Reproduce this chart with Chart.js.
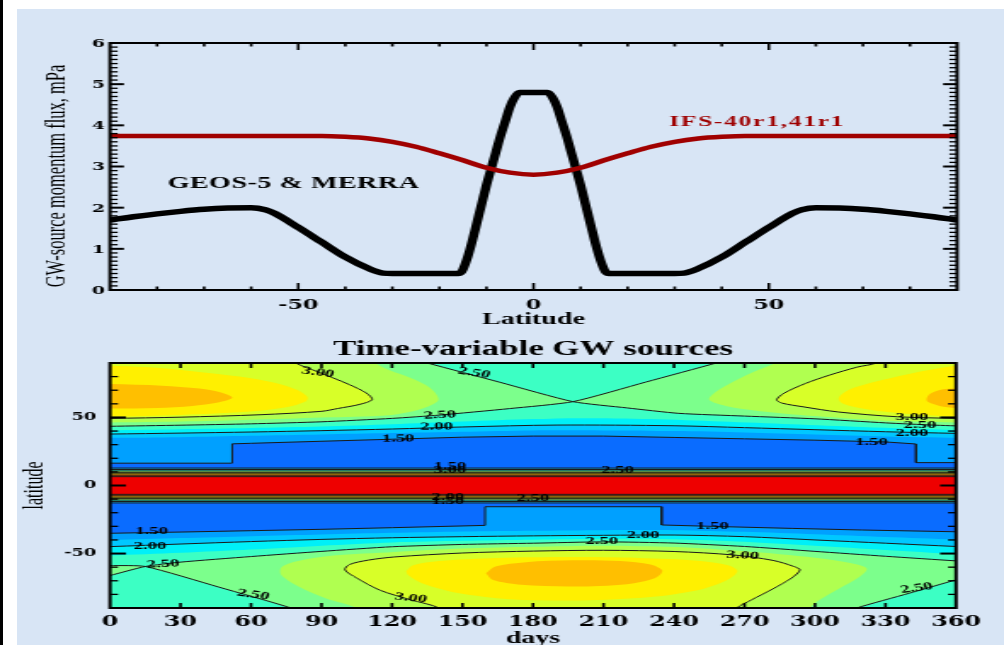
<!DOCTYPE html>
<html>
<head>
<meta charset="utf-8">
<title>GW source momentum flux</title>
<script src="https://cdn.jsdelivr.net/npm/chart.js@4.4.1/dist/chart.umd.min.js"></script>
<style>
  html, body { margin: 0; padding: 0; background: #fff; }
  #page { position: relative; width: 1004px; height: 645px; overflow: hidden; background: #fff; }
  #paper { position: absolute; left: 17px; top: 9px; right: 0; bottom: 0; background: #d8e5f5; }
  #rule { position: absolute; left: 0; top: 0; width: 3px; height: 645px; background: #000; }
  canvas { position: absolute; left: 0; }
</style>
</head>
<body>
<div id="page">
  <div id="paper"></div>
  <div id="rule"></div>
  <canvas id="fluxChart" width="590" height="335" style="width:1004px;height:335px;top:0"></canvas>
  <canvas id="sourceChart" width="590" height="310" style="width:1004px;height:310px;top:335px"></canvas>
</div>
<script>
// the original figure is a bitmap stretched sideways, so both canvases are
// drawn 590 px wide and shown 1004 px wide
const SERIF = '"Liberation Serif", "Times New Roman", serif';
const TICKFONT = '"DejaVu Serif", serif';

// ---------- top panel: source flux vs latitude ----------
const geosLat  = [-90, -85, -80, -75, -70, -65, -60, -57, -55, -50, -45, -40, -35, -32, -30,
                  -20, -16, -15.5, -15, -14, -13, -12, -11, -10, -9, -8, -7, -6, -5, -4, -3,
                  3, 4, 5, 6, 7, 8, 9, 10, 11, 12, 13, 14, 15, 15.5, 16,
                  20, 30, 32, 35, 40, 45, 50, 55, 57, 60, 65, 70, 75, 80, 85, 90];
const geosFlux = [1.70, 1.78, 1.85, 1.91, 1.96, 1.99, 2.00, 1.95, 1.86, 1.52, 1.16, 0.80, 0.52, 0.41, 0.40,
                  0.40, 0.40, 0.42, 0.50, 0.80, 1.20, 1.65, 2.10, 2.55, 2.95, 3.35, 3.75, 4.10, 4.45, 4.68, 4.80,
                  4.80, 4.68, 4.45, 4.10, 3.75, 3.35, 2.95, 2.55, 2.10, 1.65, 1.20, 0.80, 0.50, 0.42, 0.40,
                  0.40, 0.40, 0.41, 0.52, 0.80, 1.16, 1.52, 1.86, 1.95, 2.00, 1.99, 1.96, 1.91, 1.85, 1.78, 1.70];
const ifsLat  = [-90, -45, -40, -35, -30, -25, -20, -15, -10, -5, 0, 5, 10, 15, 20, 25, 30, 35, 40, 45, 90];
const ifsFlux = [3.74, 3.74, 3.72, 3.68, 3.60, 3.48, 3.32, 3.15, 2.97, 2.85, 2.80, 2.85, 2.97, 3.15, 3.32,
                 3.48, 3.60, 3.68, 3.72, 3.74, 3.74];

// ---------- bottom panel: contour lines, [day, latitude] ----------
// northern hemisphere
const nh150 = [[-5, 16.4], [52, 16.4], [52, 30.6], [60, 31], [90, 32.5], [120, 34], [150, 35.5], [180, 36.3],
               [210, 36.3], [240, 35.3], [270, 34.3], [300, 33.3], [330, 32], [343, 30.5], [343, 16.8], [365, 16.8]];
const nh175 = [[-5, 35], [0, 35], [30, 35.5], [60, 36.5], [90, 37.5], [120, 38.5], [150, 39.5], [180, 40.5],
               [210, 40.5], [240, 40], [270, 39], [300, 37.5], [330, 36], [360, 35], [365, 35]];
const nh200 = [[-5, 37.8], [0, 37.8], [30, 38.5], [60, 39.3], [90, 40.3], [120, 41.5], [150, 43], [190, 44.4],
               [240, 43.9], [270, 42.5], [300, 41], [330, 39.5], [360, 38.3], [365, 38.3]];
const nh225 = [[-5, 40.5], [0, 40.5], [30, 41.3], [60, 42.2], [90, 43.3], [120, 45], [150, 47], [180, 48.8],
               [200, 49.5], [230, 48.8], [260, 47], [290, 45], [320, 43], [360, 40.8], [365, 40.8]];
const nh250B = [[-5, 43.3], [0, 43.5], [30, 44.3], [60, 45.3], [90, 46.8], [120, 49.3], [140, 51.7], [170, 56.5],
                [197, 61.6], [228, 76], [258, 90], [262, 92]];
const nh250A = [[131, 92], [135, 90], [166, 75.8], [197, 61.6], [220, 57], [242, 53], [270, 51], [300, 49],
                [330, 46], [350, 44.4], [365, 43.5]];
const nhCap = [[262, 95], [131, 95], [131, 92], [135, 90], [197, 61.6], [258, 90], [262, 92]];
const nh275L = [[-5, 46.3], [0, 46.3], [30, 47], [60, 48.3], [90, 50], [119, 51.7], [132, 56], [139.7, 62.7],
                [136, 72], [128, 79], [119, 84.6], [113, 90], [111, 95], [-5, 95]];
const nh275R = [[365, 46.3], [360, 46.3], [330, 47.5], [300, 51], [275, 55], [262, 58.5], [255, 63], [258, 69],
                [266, 77], [276, 85], [283, 90], [285, 95], [365, 95]];
const nh300L = [[-5, 49.3], [0, 49.3], [30, 50.2], [64, 52], [90, 54.5], [97, 56.6], [106, 59.5], [111.5, 63],
                [109, 68], [102, 74], [95, 79], [88.6, 83.4], [79, 90], [76, 95], [-5, 95]];
const nh300R = [[365, 49.3], [360, 49.3], [335, 50.5], [310, 54], [295, 57.8], [286, 60.5], [283.7, 63], [287, 68],
                [296, 75], [306, 81], [318, 87], [326, 90], [328, 95], [365, 95]];
const nh325L = [[-5, 50.5], [0, 50.5], [30, 51.8], [60, 54.3], [75, 57.5], [83, 61.5], [84, 65], [80, 70],
                [70, 75.5], [55, 80], [35, 84], [15, 87], [0, 88], [-5, 88]];
const nh325R = [[365, 50.5], [360, 50.5], [340, 52.5], [322, 56], [312, 60], [310, 64], [314, 70], [325, 76],
                [340, 82], [352, 86], [360, 88], [365, 88]];
const nh350L = [[-5, 56.5], [0, 56.5], [20, 57], [35, 58.5], [46, 61], [52, 64.5], [48, 68], [38, 71.2],
                [22, 73.3], [0, 74.5], [-5, 74.5]];
const nh350R = [[365, 57], [360, 57], [353, 58.5], [348, 61.5], [347.5, 64], [349, 67.5], [354, 70.5],
                [360, 71.5], [365, 71.5]];
// southern hemisphere
const sh150 = [[-5, -35.3], [0, -35.1], [30, -34.2], [60, -33.2], [90, -32.2], [120, -31], [159.6, -29.3],
               [159.6, -15.6], [234.7, -15.6], [234.7, -29], [260, -30.2], [290, -31.5], [320, -32.7],
               [360, -34], [365, -34.2]];
const sh175 = [[-5, -40.2], [0, -40], [30, -38.6], [60, -37.2], [90, -36], [120, -34.8], [150, -33.8], [180, -33.2],
               [210, -32.8], [240, -32.8], [270, -34], [300, -35.8], [330, -37.8], [360, -39.6], [365, -39.8]];
const sh200 = [[-5, -45], [0, -44.9], [30, -43], [60, -41.2], [90, -39.6], [120, -38.4], [150, -37.6], [180, -37],
               [210, -36.6], [240, -36.4], [270, -37.6], [300, -40], [330, -42.4], [360, -44.8], [365, -45]];
const sh225 = [[-5, -51.5], [0, -51.4], [30, -49.4], [60, -47], [90, -44.2], [120, -41.8], [150, -40.6],
               [180, -39.8], [210, -39.1], [240, -39.4], [270, -41.3], [300, -44.3], [330, -47.4], [360, -50.4],
               [365, -50.6]];
const sh250P = [[-5, -58.7], [0, -58.8], [15, -59.5], [46, -74.5], [77, -90], [79, -93]];
const sh250Q = [[-5, -67.5], [0, -66.1], [15, -59.5], [30, -56.3], [60, -52.2], [90, -48.4], [120, -45],
                [150, -43.3], [180, -42.4], [210, -41.4], [240, -42.3], [270, -44.8], [300, -48.4], [330, -52],
                [360, -55.4], [365, -56]];
const sh250R = [[315, -93], [317.7, -90], [340, -79.2], [360, -69.3], [365, -67]];
const shCapL = [[79, -95], [-5, -95], [-5, -67.5], [0, -66.1], [15, -59.5], [46, -74.5], [77, -90], [79, -93]];
const shCapR = [[365, -95], [315, -95], [315, -93], [317.7, -90], [340, -79.2], [360, -69.3], [365, -67]];
const sh275 = [[105, -95], [105, -90], [92, -83], [80, -74], [73, -66], [73, -60], [80, -55.5], [95, -51.5],
               [121, -48.8], [150, -46.3], [180, -45], [210, -44.2], [240, -45.2], [270, -48.3], [300, -53],
               [315, -57], [322, -61], [319, -67], [310, -76], [302, -84], [298, -90], [298, -95]];
const sh300 = [[140, -95], [140, -90], [128, -84], [115, -77], [105, -68], [100, -62], [102, -58], [110, -54.8],
               [121, -52.5], [150, -49.6], [180, -48.2], [210, -47.6], [240, -48.5], [265, -51], [282, -55],
               [291, -59.5], [293.6, -62], [290, -68], [282, -76], [273, -84], [266.7, -90], [266, -95]];
const sh325 = [[126, -63], [129, -58.5], [140, -55.5], [165, -53.3], [195, -52.6], [225, -53.2], [250, -55.2],
               [263, -58.5], [267, -63], [262, -70], [250, -77], [230, -82], [200, -84.5], [170, -83.5],
               [148, -79], [133, -72], [127, -66], [126, -63]];
const sh350 = [[160, -64.5], [164, -59.5], [177, -56.3], [197, -55], [217, -55.5], [230, -58], [235, -62.5],
               [232, -68], [220, -72.5], [197, -74.2], [175, -73], [163, -69.5], [160, -64.5]];
// equatorial maximum: half width (deg) of each level, same all year
const eqLevel     = [1.5, 1.75, 2.0, 2.25, 2.5, 2.75, 3.0, 3.25, 3.5, 3.75, 4.0, 4.25, 4.5];
const eqHalfWidth = [12.8, 12.3, 11.75, 11.2, 10.7, 10.2, 9.65, 9.1, 8.6, 8.1, 7.55, 7.0, 6.5];

const levelColor = {
  1.25: '#0a6cff', 1.5: '#00a0ff', 1.75: '#00c8ff', 2.0: '#00f0f8', 2.25: '#3cffc4', 2.5: '#7cff8c',
  2.75: '#b0ff50', 3.0: '#d8ff28', 3.25: '#fff000', 3.5: '#ffbf00', 3.75: '#ff9000', 4.0: '#ff6000',
  4.25: '#ff3000', 4.5: '#ee0000'
};

// labels written on the contour lines: [text, day, latitude, angle]
const contourLabels = [
  ['3.00', 88.5, 83.0, 12], ['2.50', 154.9, 82.7, 13], ['2.50', 140.4, 51.7, -4], ['2.00', 139, 43.2, -1],
  ['1.50', 122.6, 34.4, -1], ['3.00', 341.3, 50.5, 0], ['2.50', 344.7, 44.4, 0], ['2.00', 341.3, 38.8, 0],
  ['1.50', 324.1, 32.2, 0], ['1.50', 144.7, 14.0, 0], ['3.00', 144.7, 11.3, 0], ['2.50', 216, 11.5, 0],
  ['2.00', 143.8, -8.8, 0], ['1.50', 143.8, -11.3, 0], ['2.50', 180, -9.5, 0], ['1.50', 17.7, -33.9, 0],
  ['2.00', 17, -44.4, 0], ['2.50', 22.6, -57.8, -5], ['2.50', 60.9, -80.3, 12], ['3.00', 128, -82.7, 9],
  ['2.00', 226.8, -36.4, 0], ['2.50', 209.2, -41.2, 0], ['1.50', 256.4, -30.2, 0], ['3.00', 269.1, -51.4, 5],
  ['2.50', 343.3, -75.4, -12]
];

// ---------- helpers ----------
const pts = arr => arr.map(([x, y]) => ({ x, y }));

function drawText(ctx, text, x, y, font, opts = {}) {
  ctx.save();
  ctx.translate(x, y);
  if (opts.angle) ctx.rotate(opts.angle * Math.PI / 180);
  ctx.font = font;
  ctx.fillStyle = opts.color || '#000';
  ctx.textAlign = opts.align || 'center';
  ctx.textBaseline = 'middle';
  if (opts.spacing) ctx.letterSpacing = opts.spacing + 'px';
  ctx.fillText(text, 0, 0);
  ctx.restore();
}

// IDL style frame with inward ticks on all four sides
function drawFrame(chart, t) {
  const { ctx, chartArea: a, scales: { x, y } } = chart;
  const isMajor = (v, m) => Math.abs(v / m - Math.round(v / m)) < 1e-6;
  ctx.save();
  ctx.fillStyle = '#000';
  const nx = Math.round((t.xTo - t.xFrom) / t.xStep);
  for (let i = 0; i <= nx; i++) {
    const v = t.xFrom + i * t.xStep;
    const px = x.getPixelForValue(v);
    const len = isMajor(v, t.xMajor) ? t.xMajorLen : t.xMinorLen;
    ctx.fillRect(px - 0.8, a.bottom - len, 1.6, len);
    ctx.fillRect(px - 0.8, a.top, 1.6, len);
  }
  const ny = Math.round((t.yTo - t.yFrom) / t.yStep);
  for (let i = 0; i <= ny; i++) {
    const v = t.yFrom + i * t.yStep;
    const py = y.getPixelForValue(v);
    const major = isMajor(v, t.yMajor);
    const len = major ? t.yMajorLen : t.yMinorLen;
    const w = major ? 2 : 1.3;
    ctx.fillRect(a.left, py - w / 2, len, w);
    ctx.fillRect(a.right - len, py - w / 2, len, w);
  }
  ctx.strokeStyle = '#000';
  ctx.lineWidth = 2;
  ctx.strokeRect(a.left, a.top, a.right - a.left, a.bottom - a.top);
  ctx.restore();
}

// ---------- top chart ----------
new Chart(document.getElementById('fluxChart'), {
  type: 'line',
  data: {
    datasets: [
      {
        label: 'IFS-40r1,41r1',
        data: ifsLat.map((x, i) => ({ x, y: ifsFlux[i] })),
        borderColor: '#a00000',
        borderWidth: 4.5,
        pointRadius: 0,
        cubicInterpolationMode: 'monotone'
      },
      {
        label: 'GEOS-5 & MERRA',
        data: geosLat.map((x, i) => ({ x, y: geosFlux[i] })),
        borderColor: '#000',
        borderWidth: 5.5,
        borderJoinStyle: 'round',
        pointRadius: 0,
        cubicInterpolationMode: 'monotone'
      }
    ]
  },
  options: {
    responsive: false,
    animation: false,
    devicePixelRatio: 1,
    layout: { padding: { left: 0, right: 27.6, top: 43, bottom: 15 } },
    plugins: { legend: { display: false }, tooltip: { enabled: false } },
    scales: {
      x: {
        type: 'linear', min: -90, max: 90,
        grid: { display: false, drawTicks: false }, border: { display: false },
        ticks: { stepSize: 50, includeBounds: false, maxRotation: 0, padding: 8, color: '#000',
                 font: { family: TICKFONT, weight: 'bold', size: 13 } },
        afterFit: s => { s.height = 30; }
      },
      y: {
        min: 0, max: 6,
        grid: { display: false, drawTicks: false }, border: { display: false },
        ticks: { stepSize: 1, padding: 3, labelOffset: 1, color: '#000',
                 font: { family: TICKFONT, weight: 'bold', size: 11 } },
        afterFit: s => { s.width = 64.64; }
      }
    }
  },
  plugins: [{
    id: 'fluxDecor',
    afterDatasetsDraw(chart) {
      const { ctx, chartArea: a, scales: { x, y } } = chart;
      drawFrame(chart, { xFrom: -80, xTo: 80, xStep: 10, xMajor: 50, xMajorLen: 7, xMinorLen: 3.5,
                         yFrom: 0.1, yTo: 5.9, yStep: 0.1, yMajor: 1, yMajorLen: 8.2, yMinorLen: 4.5 });
      drawText(ctx, 'GEOS-5 & MERRA', x.getPixelForValue(-77.8), y.getPixelForValue(2.59),
               'bold 16.5px ' + SERIF, { align: 'left', spacing: 0.3 });
      drawText(ctx, 'IFS-40r1,41r1', x.getPixelForValue(28.8), y.getPixelForValue(4.09),
               'bold 15px ' + SERIF, { align: 'left', color: '#9e0000', spacing: 1 });
      drawText(ctx, 'Latitude', (a.left + a.right) / 2, a.bottom + 30, 'bold 16.5px ' + SERIF);
      drawText(ctx, 'GW-source momentum flux, mPa', 33.5, 176, '16.5px ' + SERIF, { angle: -90 });
    }
  }]
});

// ---------- bottom chart ----------
const layers = [];
function area(arr, level, fill, tension = 0.3) {
  layers.push({ data: pts(arr), backgroundColor: levelColor[level], borderWidth: 0, pointRadius: 0,
                fill, tension });
}
function contour(arr, tension = 0.3) {
  layers.push({ data: pts(arr), borderColor: '#1a1a1a', borderWidth: 1, pointRadius: 0, fill: false, tension });
}

// painted from the lowest level up, every region covers the one below it
area([[-5, 95], [365, 95]], 1.25, 'start', 0);
area(nh150, 1.5, 'end', 0);
area(nh175, 1.75, 'end');
area(nh200, 2.0, 'end');
area(nh225, 2.25, 'end');
area(nh250B, 2.5, 'end', 0.2);
area(nh250A, 2.5, 'end', 0.2);
area(nhCap, 2.25, 'shape', 0);
area(nh275L, 2.75, 'shape');
area(nh275R, 2.75, 'shape');
area(nh300L, 3.0, 'shape');
area(nh300R, 3.0, 'shape');
area(nh325L, 3.25, 'shape');
area(nh325R, 3.25, 'shape');
area(nh350L, 3.5, 'shape');
area(nh350R, 3.5, 'shape');
area(sh150, 1.5, 'start', 0);
area(sh175, 1.75, 'start');
area(sh200, 2.0, 'start');
area(sh225, 2.25, 'start');
area(sh250P, 2.5, 'start', 0.2);
area(sh250Q, 2.5, 'start', 0.2);
area(shCapL, 2.25, 'shape', 0);
area(shCapR, 2.25, 'shape', 0);
area(sh275, 2.75, 'shape');
area(sh300, 3.0, 'shape');
area(sh325, 3.25, 'shape');
area(sh350, 3.5, 'shape');
eqLevel.forEach((lev, i) => {
  const e = eqHalfWidth[i];
  area([[-5, e], [365, e]], lev, { value: -e }, 0);
});
[nh200, nh300L, nh300R, sh200, sh300].forEach(c => contour(c));
[nh250A, nh250B, sh250P, sh250Q, sh250R].forEach(c => contour(c, 0.2));
[nh150, sh150].forEach(c => contour(c, 0));
eqLevel.forEach((lev, i) => {
  if (lev % 0.5 === 0) {
    contour([[-5, eqHalfWidth[i]], [365, eqHalfWidth[i]]], 0);
    contour([[-5, -eqHalfWidth[i]], [365, -eqHalfWidth[i]]], 0);
  }
});
layers.forEach((d, i) => { d.order = layers.length - i; });

new Chart(document.getElementById('sourceChart'), {
  type: 'line',
  data: { datasets: layers },
  options: {
    responsive: false,
    animation: false,
    devicePixelRatio: 1,
    elements: { line: { capBezierPoints: false } },
    layout: { padding: { left: 0, right: 28.2, top: 28, bottom: 7 } },
    plugins: { legend: { display: false }, tooltip: { enabled: false } },
    scales: {
      x: {
        type: 'linear', min: 0, max: 360,
        grid: { display: false, drawTicks: false }, border: { display: false },
        ticks: { stepSize: 30, maxRotation: 0, autoSkip: false, padding: 6, color: '#000',
                 font: { family: TICKFONT, weight: 'bold', size: 14 } },
        afterFit: s => { s.height = 30; }
      },
      y: {
        min: -90, max: 90,
        grid: { display: false, drawTicks: false }, border: { display: false },
        ticks: { stepSize: 50, includeBounds: false, padding: 8, color: '#000',
                 font: { family: TICKFONT, weight: 'bold', size: 10.5 } },
        afterFit: s => { s.width = 64.64; }
      }
    }
  },
  plugins: [{
    id: 'sourceDecor',
    afterDatasetsDraw(chart) {
      const { ctx, chartArea: a, scales: { x, y } } = chart;
      contourLabels.forEach(([t, d, lat, ang]) => {
        drawText(ctx, t, x.getPixelForValue(d), y.getPixelForValue(lat), 'bold 11px ' + SERIF, { angle: ang });
      });
      drawFrame(chart, { xFrom: 30, xTo: 330, xStep: 30, xMajor: 30, xMajorLen: 5, xMinorLen: 5,
                         yFrom: -80, yTo: 80, yStep: 10, yMajor: 50, yMajorLen: 9.4, yMinorLen: 4.7 });
      drawText(ctx, 'Time-variable GW sources', (a.left + a.right) / 2, 15, 'bold 20.5px ' + SERIF);
      drawText(ctx, 'days', (a.left + a.right) / 2, 304, 'bold 16.5px ' + SERIF);
      drawText(ctx, 'latitude', 20.6, y.getPixelForValue(0), '16px ' + SERIF, { angle: -90 });
    }
  }]
});
</script>
</body>
</html>
